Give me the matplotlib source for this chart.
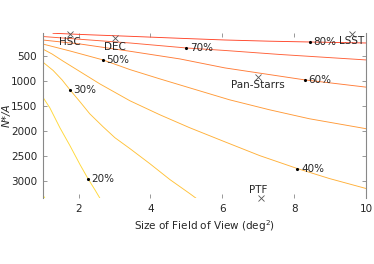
import numpy as np
import matplotlib
matplotlib.use('Agg')
import matplotlib.pyplot as plt

# contour lines: (field of view deg^2, N*/A)
levels = ['10%', '20%', '30%', '40%', '50%', '60%', '70%', '80%']
line_x = [
    [1.0, 1.06],
    [1.0, 1.2, 1.48, 1.76, 2.04, 2.26, 2.45, 2.59],
    [1.0, 1.29, 1.54, 1.76, 2.04, 2.31, 2.68, 3.01, 3.43, 3.98, 4.54, 5.09, 5.26],
    [1.0, 1.26, 1.56, 2.59, 3.43, 4.26, 5.09, 6.06, 7.04, 8.09, 8.98, 10.0],
    [1.0, 1.76, 2.68, 3.43, 4.26, 5.09, 6.2, 7.31, 8.42, 10.0],
    [1.0, 2.04, 3.43, 4.82, 6.07, 7.18, 8.29, 10.0],
    [1.0, 2.31, 3.43, 5.0, 6.07, 7.59, 10.0],
    [1.29, 2.31, 3.43, 4.82, 6.07, 7.31, 8.43, 10.0],
]
line_y = [
    [3280, 3350],
    [1320, 1540, 1940, 2300, 2680, 2960, 3180, 3350],
    [620, 790, 980, 1180, 1420, 1660, 1920, 2140, 2360, 2660, 2980, 3260, 3350],
    [360, 460, 600, 1060, 1400, 1680, 1940, 2220, 2500, 2760, 2960, 3160],
    [260, 400, 580, 774, 960, 1140, 1380, 1580, 1760, 1960],
    [180, 260, 406, 560, 740, 860, 980, 1126],
    [110, 180, 240, 340, 390, 470, 580],
    [45, 76, 106, 146, 180, 204, 220, 240],
]
line_colors = ['#ffee40', '#ffd838', '#ffc238', '#ffb038', '#ff9a38',
               '#ff7c38', '#ff6038', '#ff4428']

# where the level labels sit
label_x = [None, 2.26, 1.76, 8.09, 2.68, 8.29, 5.0, 8.43]
label_y = [None, 2960, 1180, 2760, 580, 980, 340, 220]

# telescopes
scopes = ['HSC', 'DEC', 'LSST', 'Pan-Starrs', 'PTF']
scope_fov = [1.77, 3.0, 9.6, 7.0, 7.08]
scope_n = [50, 140, 50, 920, 3345]
text_x = [1.77, 3.0, 9.6, 7.0, 7.0]
text_y = [225, 320, 210, 1085, 3190]

plt.rcParams['font.family'] = ['DejaVu Sans']
fig = plt.figure(figsize=(3.74, 2.64), dpi=100)
ax = fig.add_axes([0.114, 0.25, 0.865, 0.624])

for xs, ys, c in zip(line_x, line_y, line_colors):
    ax.plot(xs, ys, color=c, linewidth=0.65)

for lx, ly, lab in zip(label_x, label_y, levels):
    if lx is None:
        continue
    ax.plot(lx, ly, 'k.', markersize=2.5)
    ax.annotate(lab, (lx, ly), xytext=(2.5, 0), textcoords='offset points',
                va='center', ha='left', fontsize=7.5, color='#262626')

ax.plot(scope_fov, scope_n, 'x', color='#555555', markersize=5,
        markeredgewidth=0.6, linestyle='none', clip_on=False)
for tx, ty, name in zip(text_x, text_y, scopes):
    ax.text(tx, ty, name, ha='center', va='center', fontsize=7.5,
            color='#262626')

ax.set_xlim(1, 10)
ax.set_ylim(3350, 45)
ax.set_xticks([2, 4, 6, 8, 10])
ax.set_yticks([500, 1000, 1500, 2000, 2500, 3000])
ax.tick_params(direction='in', length=3, width=0.6, color='#888888',
               labelsize=7.5, labelcolor='#262626', top=True, right=True,
               pad=4)
for side in ['top', 'bottom']:
    ax.spines[side].set_visible(False)
for side in ['left', 'right']:
    ax.spines[side].set_color('#888888')
    ax.spines[side].set_linewidth(0.8)

ax.set_xlabel('Size of Field of View (deg$^2$)', fontsize=7.5,
              color='#262626', labelpad=3)
ax.set_ylabel('N*/A', fontsize=7.5, color='#262626', style='italic')
ax.yaxis.set_label_coords(-0.095, 0.5)

fig.savefig('out.png', dpi=100)
